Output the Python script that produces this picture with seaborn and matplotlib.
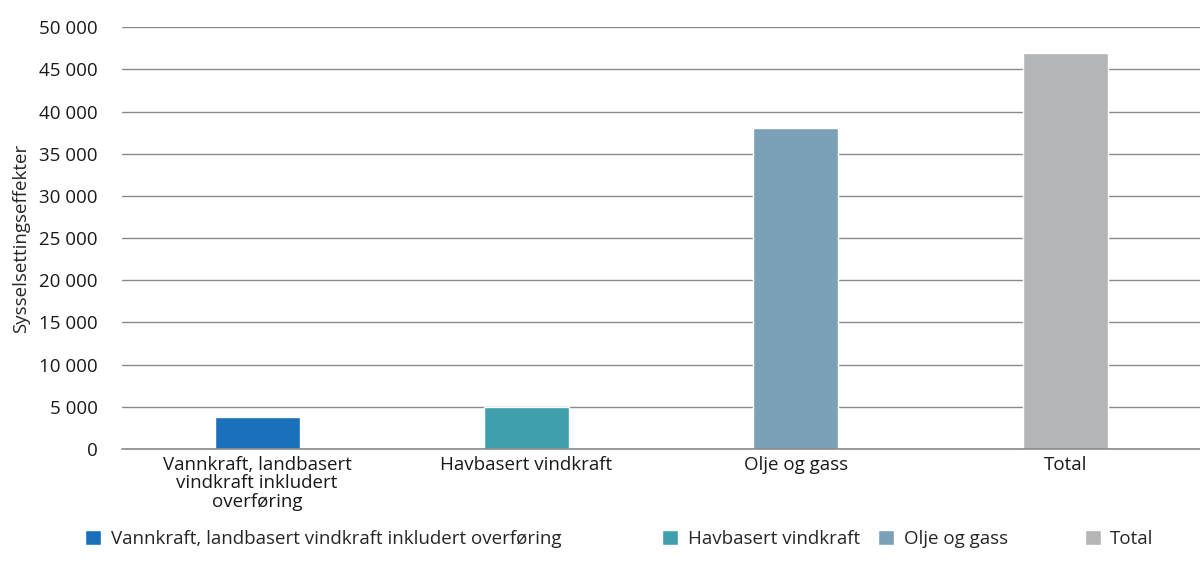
import pandas as pd
import matplotlib.pyplot as plt
import seaborn as sns
from matplotlib.patches import Patch
from matplotlib.ticker import FuncFormatter

# Data
categories = ["Vannkraft, landbasert\nvindkraft inkludert\noverføring",
              "Havbasert vindkraft", "Olje og gass", "Total"]
legend_labels = ["Vannkraft, landbasert vindkraft inkludert overføring",
                 "Havbasert vindkraft", "Olje og gass", "Total"]
values = [3800, 4950, 38000, 46900]
colors = ["#1a70bb", "#3fa0ad", "#7ba1b8", "#b4b5b7"]

df = pd.DataFrame({"kategori": categories, "verdi": values})

sns.set_style("white")
plt.rcParams['font.family'] = ['Open Sans', 'DejaVu Sans']
fs = 13.5

fig = plt.figure(figsize=(12, 5.66), dpi=100)
ax = fig.add_axes([0.102, 0.207, 0.898, 0.745])

sns.barplot(data=df, x="kategori", y="verdi", hue="kategori", palette=colors,
            width=0.315, legend=False, ax=ax, saturation=1, zorder=3)

ax.set_ylim(0, 50000)
ax.set_yticks(range(0, 50001, 5000))
ax.yaxis.set_major_formatter(FuncFormatter(lambda v, p: f"{int(v):,}".replace(",", " ")))
ax.grid(axis="y", color="#8a8a8a", linewidth=1)
ax.set_axisbelow(True)
ax.axhline(0, color="#8a8a8a", linewidth=1.2, clip_on=False, zorder=4)
for s in ["top", "right", "left", "bottom"]:
    ax.spines[s].set_visible(False)
ax.tick_params(axis="both", length=0, labelsize=fs, colors="#1a1a1a")
ax.tick_params(axis="y", pad=18)
ax.tick_params(axis="x", pad=5)
ax.set_xlabel("")
ax.set_ylabel("Sysselsettingseffekter", fontsize=fs, labelpad=6)
for lbl in ax.get_xticklabels():
    lbl.set_linespacing(1.05)

# legend entries placed one by one, like the reference's uneven spacing
legend_x = [0.071, 0.552, 0.732, 0.904]
for c, lab, x in zip(colors, legend_labels, legend_x):
    fig.legend([Patch(facecolor=c)], [lab], loc="center left",
               bbox_to_anchor=(x, 0.048), frameon=False, fontsize=fs,
               handlelength=0.85, handleheight=0.85, handletextpad=0.5,
               borderaxespad=0, borderpad=0)

fig.savefig("out.png", dpi=100)
